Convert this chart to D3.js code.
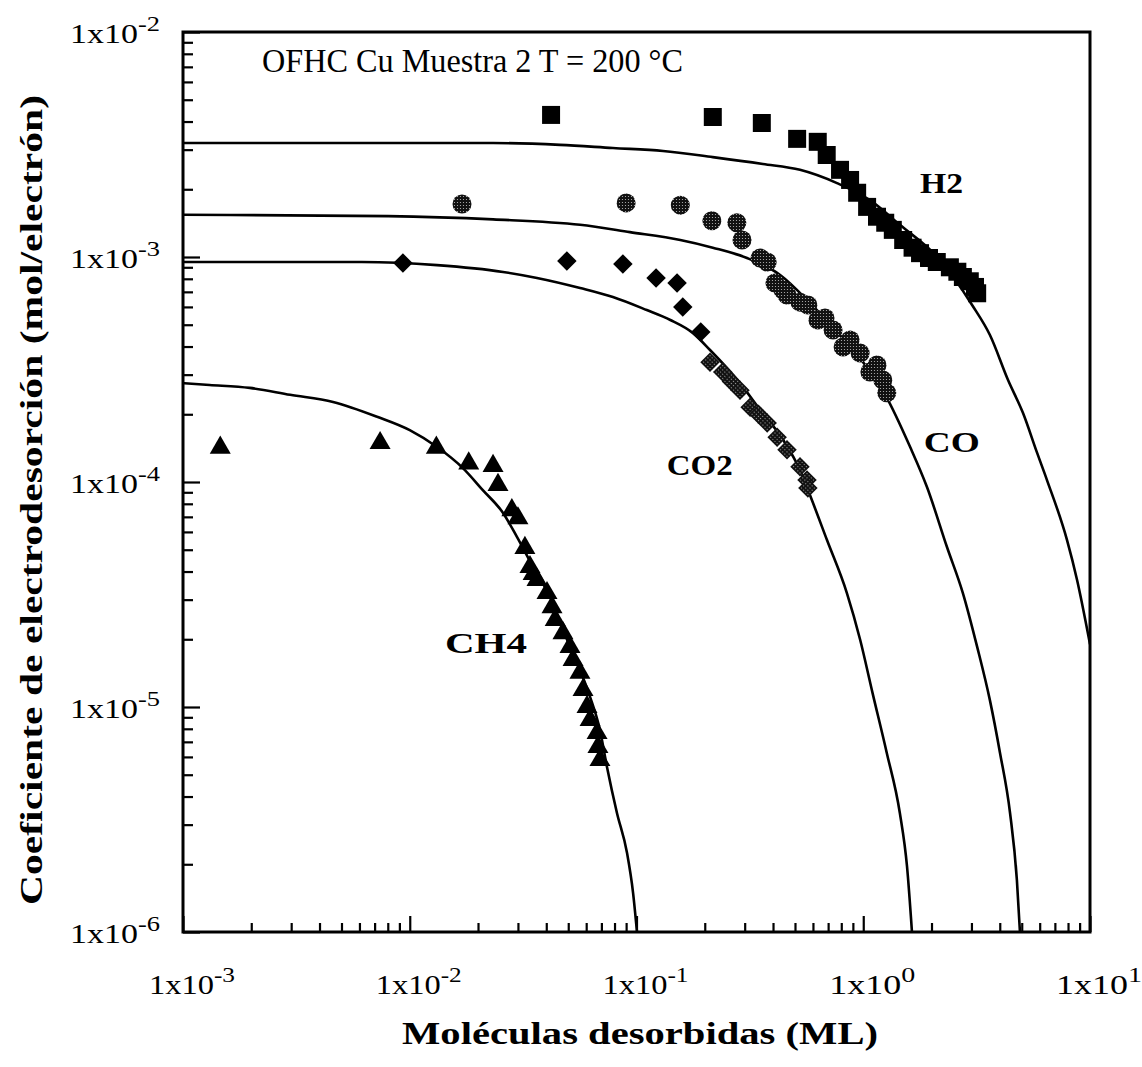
<!DOCTYPE html>
<html><head><meta charset="utf-8">
<script src="https://cdn.jsdelivr.net/npm/d3@7"></script>
<style>body{margin:0;background:#fff}svg{display:block}</style>
</head><body>
<svg id="chart" width="1142" height="1067"></svg>
<script>
// ---- tick labels ----
const xTickVals = [1e-3, 1e-2, 1e-1, 1, 10];
const xTickExp = ["-3", "-2", "-1", "0", "1"];
const yTickVals = [1e-6, 1e-5, 1e-4, 1e-3, 1e-2];
const yTickExp = ["-6", "-5", "-4", "-3", "-2"];

// ---- measured points ----
const h2X = [0.042, 0.217, 0.357, 0.511, 0.63, 0.69, 0.79, 0.875, 0.94, 1.04, 1.15, 1.25, 1.35, 1.50, 1.65, 1.78, 1.95, 2.11, 2.41, 2.6, 2.75, 2.95, 3.11, 3.18];
const h2Y = [4.28e-3, 4.19e-3, 3.94e-3, 3.35e-3, 3.25e-3, 2.84e-3, 2.44e-3, 2.20e-3, 1.93e-3, 1.67e-3, 1.51e-3, 1.42e-3, 1.32e-3, 1.19e-3, 1.10e-3, 1.04e-3, 9.9e-4, 9.5e-4, 9.0e-4, 8.6e-4, 8.15e-4, 7.8e-4, 7.36e-4, 6.9e-4];

const coX = [0.0170, 0.090, 0.156, 0.215, 0.277, 0.292, 0.351, 0.377, 0.408, 0.443, 0.461, 0.526, 0.570, 0.631, 0.678, 0.736, 0.815, 0.875, 0.969, 1.07, 1.15, 1.22, 1.27];
const coY = [1.72e-3, 1.74e-3, 1.70e-3, 1.45e-3, 1.42e-3, 1.19e-3, 9.9e-4, 9.5e-4, 7.66e-4, 7.13e-4, 6.78e-4, 6.3e-4, 6.12e-4, 5.25e-4, 5.36e-4, 4.74e-4, 3.98e-4, 4.28e-4, 3.74e-4, 3.08e-4, 3.31e-4, 2.84e-4, 2.49e-4];

const co2X = [0.00933, 0.0493, 0.0871, 0.122, 0.151, 0.160, 0.192, 0.211, 0.240, 0.262, 0.286, 0.317, 0.345, 0.377, 0.417, 0.461, 0.526, 0.565, 0.570];
const co2Y = [9.4e-4, 9.6e-4, 9.3e-4, 8.07e-4, 7.66e-4, 6.0e-4, 4.64e-4, 3.41e-4, 3.08e-4, 2.8e-4, 2.56e-4, 2.15e-4, 2.0e-4, 1.83e-4, 1.58e-4, 1.39e-4, 1.17e-4, 1.02e-4, 9.4e-5];

const ch4X = [0.00146, 0.00740, 0.0131, 0.0182, 0.0233, 0.0245, 0.0282, 0.0300, 0.0322, 0.0339, 0.0350, 0.0364, 0.0403, 0.0424, 0.0438, 0.0474, 0.0509, 0.0525, 0.0563, 0.0581, 0.0605, 0.0624, 0.0670, 0.0676, 0.0690];
const ch4Y = [1.42e-4, 1.49e-4, 1.42e-4, 1.21e-4, 1.18e-4, 9.7e-5, 7.5e-5, 6.9e-5, 5.09e-5, 4.19e-5, 3.9e-5, 3.67e-5, 3.21e-5, 2.78e-5, 2.44e-5, 2.13e-5, 1.85e-5, 1.62e-5, 1.42e-5, 1.19e-5, 1.0e-5, 8.75e-6, 7.66e-6, 6.64e-6, 5.81e-6];

// ---- fitted curves ----
const h2FitX = [0.001, 0.0233, 0.0460, 0.0787, 0.131, 0.217, 0.361, 0.526, 0.766, 1.07, 1.45, 2.18, 3.02, 3.62, 4.35, 5.06, 5.84, 6.46, 7.92, 8.77, 10];
const h2FitY = [3.21e-3, 3.21e-3, 3.15e-3, 3.05e-3, 2.96e-3, 2.78e-3, 2.59e-3, 2.44e-3, 2.13e-3, 1.79e-3, 1.39e-3, 9.7e-4, 6.12e-4, 4.50e-4, 2.84e-4, 2.03e-4, 1.35e-4, 1.02e-4, 5.52e-5, 3.67e-5, 1.9e-5];

const coFitX = [0.001, 0.00802, 0.0233, 0.0564, 0.0935, 0.156, 0.217, 0.307, 0.430, 0.582, 0.789, 1.02, 1.25, 1.61, 1.91, 2.34, 2.75, 3.18, 3.62, 4.01, 4.44, 4.76, 4.91];
const coFitY = [1.54e-3, 1.52e-3, 1.47e-3, 1.39e-3, 1.29e-3, 1.19e-3, 1.10e-3, 9.9e-4, 8.32e-4, 6.25e-4, 4.50e-4, 3.31e-4, 2.44e-4, 1.43e-4, 9.5e-5, 5.14e-5, 3.21e-5, 1.85e-5, 1.07e-5, 6.25e-6, 3.38e-6, 1.70e-6, 1e-6];

const co2FitX = [0.001, 0.00615, 0.0132, 0.0258, 0.0364, 0.0564, 0.0787, 0.111, 0.141, 0.177, 0.211, 0.286, 0.351, 0.443, 0.526, 0.582, 0.692, 0.847, 0.969, 1.10, 1.27, 1.45, 1.56, 1.64];
const co2FitY = [9.5e-4, 9.5e-4, 9.2e-4, 8.58e-4, 8.07e-4, 7.28e-4, 6.64e-4, 5.81e-4, 5.25e-4, 4.6e-4, 3.86e-4, 2.75e-4, 2.09e-4, 1.54e-4, 1.13e-4, 8.75e-5, 5.52e-5, 3.21e-5, 1.99e-5, 1.15e-5, 6.25e-6, 3.38e-6, 1.95e-6, 1e-6];

const ch4FitX = [0.001, 0.00131, 0.00197, 0.00297, 0.00459, 0.00718, 0.0100, 0.0132, 0.0172, 0.0210, 0.0258, 0.0297, 0.0350, 0.0416, 0.0474, 0.0547, 0.0624, 0.0690, 0.0741, 0.0820, 0.0908, 0.0966, 0.1005];
const ch4FitY = [2.75e-4, 2.70e-4, 2.62e-4, 2.44e-4, 2.27e-4, 1.95e-4, 1.70e-4, 1.43e-4, 1.15e-4, 9.2e-5, 7.28e-5, 5.7e-5, 4.19e-5, 3.08e-5, 2.2e-5, 1.57e-5, 1.11e-5, 7.9e-6, 5.41e-6, 3.38e-6, 2.25e-6, 1.49e-6, 1e-6];

// ---- labels ----
const seriesLabels = ["H2", "CO", "CO2", "CH4"];
const labelX = [1.78, 1.85, 0.136, 0.0143];
const labelY = [1.92e-3, 1.36e-4, 1.07e-4, 1.74e-5];
const titleText = "OFHC Cu Muestra 2 T = 200 °C";
const xTitle = "Moléculas desorbidas (ML)";
const yTitle = "Coeficiente de electrodesorción (mol/electrón)";

// ================= drawing =================
const svg = d3.select("#chart");
const FONT = "'Liberation Serif', 'Times New Roman', serif";
const L = 183, R = 1090, T = 32, B = 932;
const x = d3.scaleLog().domain([1e-3, 10]).range([L, R]);
const y = d3.scaleLog().domain([1e-6, 1e-2]).range([B, T]);

const defs = svg.append("defs");
const pat = defs.append("pattern").attr("id", "stipple").attr("patternUnits", "userSpaceOnUse")
  .attr("width", 3).attr("height", 3);
pat.append("rect").attr("width", 3).attr("height", 3).attr("fill", "#111");
pat.append("circle").attr("cx", 1.5).attr("cy", 1.5).attr("r", 0.6).attr("fill", "#bbb");
defs.append("clipPath").attr("id", "plotclip").append("rect")
  .attr("x", L).attr("y", T).attr("width", R - L).attr("height", B - T);

// axes: minor and major ticks pointing inward
const minorX = x.ticks().filter(v => !xTickVals.some(t => Math.abs(t - v) / t < 1e-9));
const minorY = y.ticks().filter(v => !yTickVals.some(t => Math.abs(t - v) / t < 1e-9));

function styleAxis(g) {
  g.select(".domain").remove();
  g.selectAll(".tick line").attr("stroke", "#000").attr("stroke-width", 2.2);
  g.selectAll(".tick text").remove();
}
svg.append("g").attr("transform", `translate(0,${B})`)
  .call(d3.axisBottom(x).tickValues(minorX).tickSize(-9).tickFormat("")).call(styleAxis);
svg.append("g").attr("transform", `translate(0,${B})`)
  .call(d3.axisBottom(x).tickValues(xTickVals).tickSize(-16).tickFormat("")).call(styleAxis);
svg.append("g").attr("transform", `translate(${L},0)`)
  .call(d3.axisLeft(y).tickValues(minorY).tickSize(-10).tickFormat("")).call(styleAxis);
svg.append("g").attr("transform", `translate(${L},0)`)
  .call(d3.axisLeft(y).tickValues(yTickVals).tickSize(-17).tickFormat("")).call(styleAxis);

// frame
svg.append("rect").attr("x", L).attr("y", T).attr("width", R - L).attr("height", B - T)
  .attr("fill", "none").attr("stroke", "#000").attr("stroke-width", 3);

// tick labels
function expLabel(sel, base, exp) {
  sel.append("tspan").text(base);
  sel.append("tspan").attr("dy", -12).attr("font-size", 21).text(exp);
}
yTickVals.forEach((v, i) => {
  const t = svg.append("text").attr("x", 160).attr("y", y(v) + 11)
    .attr("text-anchor", "end").attr("font-family", FONT).attr("font-size", 27);
  expLabel(t, "1x10", yTickExp[i]);
  t.attr("textLength", 90).attr("lengthAdjust", "spacingAndGlyphs");
});
xTickVals.forEach((v, i) => {
  const t = svg.append("text").attr("x", x(v) + 9).attr("y", 994)
    .attr("text-anchor", "middle").attr("font-family", FONT).attr("font-size", 27);
  expLabel(t, "1x10", xTickExp[i]);
  t.attr("textLength", 86).attr("lengthAdjust", "spacingAndGlyphs");
});

// curves
const line = d3.line().x(d => x(d[0])).y(d => y(d[1])).curve(d3.curveMonotoneX);
const curves = [[h2FitX, h2FitY], [coFitX, coFitY], [co2FitX, co2FitY], [ch4FitX, ch4FitY]];
const cg = svg.append("g").attr("clip-path", "url(#plotclip)");
curves.forEach(([xs, ys]) => {
  cg.append("path").datum(xs.map((v, i) => [v, ys[i]])).attr("d", line)
    .attr("fill", "none").attr("stroke", "#000").attr("stroke-width", 2.6);
});

// markers
const mg = svg.append("g");
mg.selectAll(".h2").data(h2X.map((v, i) => [v, h2Y[i]])).join("path")
  .attr("d", d3.symbol(d3.symbolSquare, 324))
  .attr("transform", d => `translate(${x(d[0])},${y(d[1])})`).attr("fill", "#000");
mg.selectAll(".co").data(coX.map((v, i) => [v, coY[i]])).join("circle")
  .attr("cx", d => x(d[0])).attr("cy", d => y(d[1])).attr("r", 9.5)
  .attr("fill", "url(#stipple)");
mg.selectAll(".co2").data(co2X.map((v, i) => [v, co2Y[i]])).join("path")
  .attr("d", d3.symbol(d3.symbolSquare, 190))
  .attr("transform", d => `translate(${x(d[0])},${y(d[1])}) rotate(45)`)
  .attr("fill", d => d[0] > 0.2 ? "url(#stipple)" : "#000");
mg.selectAll(".ch4").data(ch4X.map((v, i) => [v, ch4Y[i]])).join("path")
  .attr("d", d3.symbol(d3.symbolTriangle, 191))
  .attr("transform", d => `translate(${x(d[0])},${y(d[1])})`).attr("fill", "#000");

// series labels
const labelW = [43, 56, 66, 82];
seriesLabels.forEach((s, i) => {
  svg.append("text").attr("x", x(labelX[i])).attr("y", y(labelY[i]))
    .attr("font-family", FONT).attr("font-weight", "bold").attr("font-size", 29)
    .attr("textLength", labelW[i]).attr("lengthAdjust", "spacingAndGlyphs").text(s);
});

// title
svg.append("text").attr("x", 262).attr("y", 72).attr("font-family", FONT).attr("font-size", 33)
  .attr("textLength", 421).attr("lengthAdjust", "spacingAndGlyphs").text(titleText);

// axis titles
svg.append("text").attr("x", 640).attr("y", 1044).attr("text-anchor", "middle")
  .attr("font-family", FONT).attr("font-weight", "bold").attr("font-size", 31)
  .attr("textLength", 476).attr("lengthAdjust", "spacingAndGlyphs").text(xTitle);
svg.append("text").attr("transform", "translate(42,500) rotate(-90)").attr("text-anchor", "middle")
  .attr("font-family", FONT).attr("font-weight", "bold").attr("font-size", 31)
  .attr("textLength", 810).attr("lengthAdjust", "spacingAndGlyphs").text(yTitle);
</script>
</body></html>
